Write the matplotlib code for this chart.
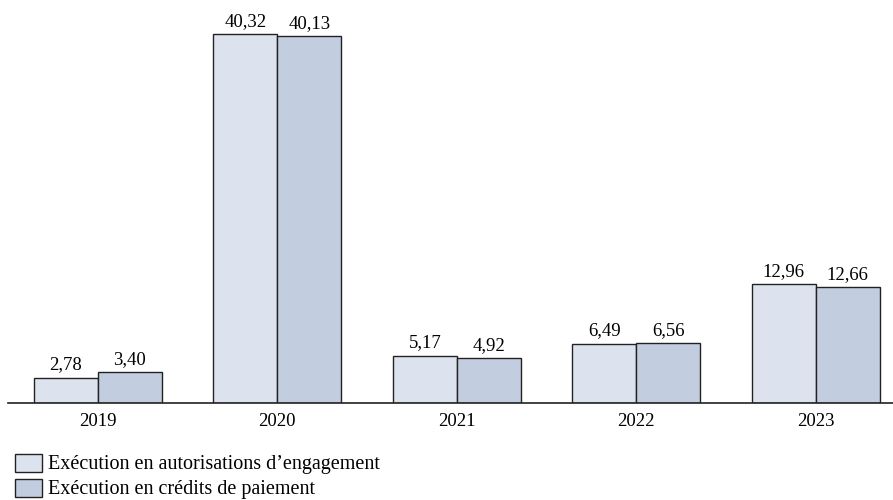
import matplotlib.pyplot as plt
from matplotlib.patches import Patch
import numpy as np

plt.rcParams['font.family'] = ['Liberation Serif', 'DejaVu Serif']

years = ['2019', '2020', '2021', '2022', '2023']
ae_values = [2.78, 40.32, 5.17, 6.49, 12.96]
cp_values = [3.40, 40.13, 4.92, 6.56, 12.66]
series_labels = ["Exécution en autorisations d\u2019engagement",
                 "Exécution en crédits de paiement"]

light = '#dde3ee'
dark = '#c2cde0'
edge = '#222222'

fig = plt.figure(figsize=(8.93, 5.0), dpi=100)
ax = fig.add_axes([8 / 893, 97 / 500, 885 / 893, 403 / 500])

x = np.arange(len(years))
w = 0.356
b1 = ax.bar(x - w / 2, ae_values, w, color=light, edgecolor=edge, linewidth=1)
b2 = ax.bar(x + w / 2, cp_values, w, color=dark, edgecolor=edge, linewidth=1)

def fmt(v):
    return f'{v:.2f}'.replace('.', ',')

for bars, vals in ((b1, ae_values), (b2, cp_values)):
    for r, v in zip(bars, vals):
        ax.text(r.get_x() + r.get_width() / 2, v + 0.45, fmt(v),
                ha='center', va='bottom', fontsize=13.5)

ax.set_xlim(-0.5, 4.43)
ax.set_ylim(0, 44.04)
ax.set_xticks(x)
ax.set_xticklabels(years, fontsize=13.5)
ax.tick_params(axis='x', length=0, pad=7)
ax.set_yticks([])
for s in ('top', 'right', 'left'):
    ax.spines[s].set_visible(False)
ax.spines['bottom'].set_linewidth(1.2)
ax.spines['bottom'].set_color(edge)

handles = [Patch(facecolor=light, edgecolor=edge, label=series_labels[0]),
           Patch(facecolor=dark, edgecolor=edge, label=series_labels[1])]
fig.legend(handles=handles, loc='lower left', bbox_to_anchor=(0.0035, -0.023),
           frameon=False, fontsize=14.5, handlelength=1.35, handleheight=1.0,
           handletextpad=0.3, labelspacing=0.2, borderaxespad=0.2)

fig.savefig('out.png', dpi=100)
